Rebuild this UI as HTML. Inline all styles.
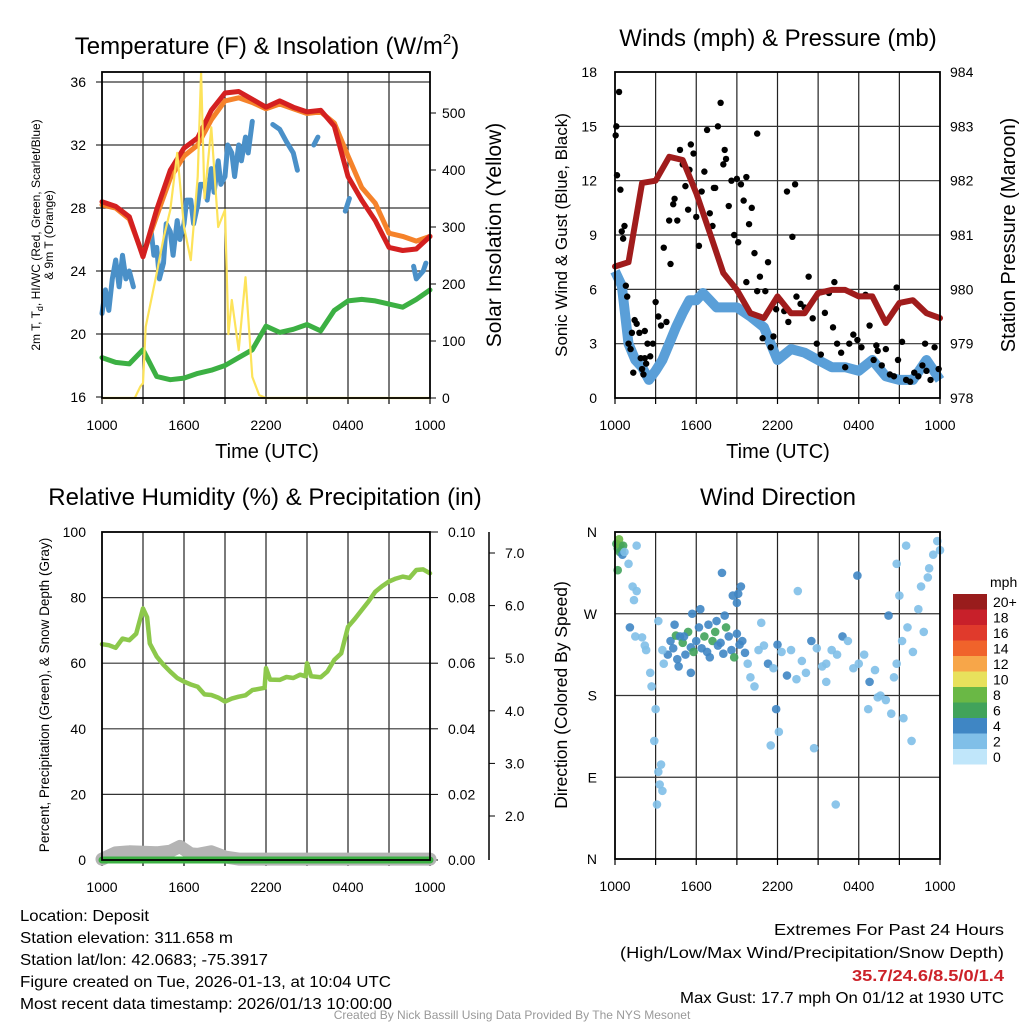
<!DOCTYPE html>
<html><head><meta charset="utf-8"><title>Deposit Meteogram</title>
<style>
html,body{margin:0;padding:0;background:#fff;}
svg{display:block;font-family:"Liberation Sans",Arial,sans-serif;}
</style></head>
<body>
<svg id="chart" width="1024" height="1024" viewBox="0 0 1024 1024" xmlns="http://www.w3.org/2000/svg">
<rect width="1024" height="1024" fill="#fff"/>
<g id="p1"></g>
<g id="p2"></g>
<g id="p3"></g>
<g id="p4"></g>
<g font-size="16" fill="#000">
<text x="20" y="921" textLength="129" lengthAdjust="spacingAndGlyphs">Location: Deposit</text>
<text x="20" y="943" textLength="213" lengthAdjust="spacingAndGlyphs">Station elevation: 311.658 m</text>
<text x="20" y="965" textLength="248" lengthAdjust="spacingAndGlyphs">Station lat/lon: 42.0683; -75.3917</text>
<text x="20" y="987" textLength="371" lengthAdjust="spacingAndGlyphs">Figure created on Tue, 2026-01-13, at 10:04 UTC</text>
<text x="20" y="1009" textLength="372" lengthAdjust="spacingAndGlyphs">Most recent data timestamp: 2026/01/13 10:00:00</text>
</g>
<g font-size="16" fill="#000">
<text x="774" y="935" textLength="230" lengthAdjust="spacingAndGlyphs">Extremes For Past 24 Hours</text>
<text x="620" y="958" textLength="384" lengthAdjust="spacingAndGlyphs">(High/Low/Max Wind/Precipitation/Snow Depth)</text>
<text x="852" y="981" fill="#cc2229" font-weight="bold" textLength="152" lengthAdjust="spacingAndGlyphs">35.7/24.6/8.5/0/1.4</text>
<text x="680" y="1003" textLength="324" lengthAdjust="spacingAndGlyphs">Max Gust: 17.7 mph On 01/12 at 1930 UTC</text>
</g>
<text x="512" y="1019" text-anchor="middle" font-size="12" fill="#999">Created By Nick Bassill Using Data Provided By The NYS Mesonet</text>
</svg>
<script>
// ---------- data ----------
const hours = [0,1,2,3,4,5,6,7,8,9,10,11,12,13,14,15,16,17,18,19,20,21,22,23,24];
const xTickLabels = ["1000","1600","2200","0400","1000"];
const xTickHours = [0,6,12,18,24];
const tempTicks = [16,20,24,28,32,36];
const solarTicks = [0,100,200,300,400,500];
const temp2m = [28.4,28.1,27.45,24.9,27.9,30.4,31.8,32.45,34.2,35.3,35.4,34.9,34.4,34.8,34.4,34.1,34.2,33.2,30.0,28.5,27.2,25.5,25.3,25.4,26.2];
const temp9m = [28.2,28.0,27.3,25.0,27.5,29.9,31.3,32.0,33.6,34.8,35.0,34.7,34.3,34.6,34.3,34.0,34.1,33.4,31.3,29.3,28.3,26.4,26.2,25.9,26.2];
const dewpoint = [18.5,18.2,18.1,19.0,17.3,17.1,17.2,17.5,17.7,18.0,18.5,19.0,20.5,20.1,20.3,20.6,20.2,21.5,22.1,22.2,22.1,21.9,21.7,22.2,22.8];
const hiwcT = [0,0.25,0.5,0.75,1,1.25,1.5,1.75,2,2.3,null,3.6,3.8,4,4.2,4.5,4.7,5,5.2,5.5,5.7,6,6.2,6.5,6.7,7,7.2,7.5,7.7,8,8.2,8.5,8.7,9,9.2,9.5,9.7,10,10.2,10.5,10.7,11,null,12.5,13,13.5,14,14.3,null,15.5,15.8,null,17.8,18.1,null,22.8,23,23.5,23.7];
const hiwcV = [21.3,22.8,21.5,23.5,24.7,23.0,25.0,23.5,24.0,23.0,null,26.5,25.0,25.5,23.5,24.5,27.0,26.5,25.0,27.2,26.0,27.0,28.5,28.5,27.0,28.2,29.5,29.5,28.5,30.5,29.0,31.0,29.5,30.0,32.0,31.5,30.0,32.0,31.0,32.5,31.5,33.5,null,33.3,33.0,32.2,31.5,30.4,null,32.0,32.5,null,27.8,28.6,null,24.3,23.5,24.0,24.5];
const solarT = [0,2.4,2.8,3.0,3.2,4,4.5,5,5.5,6,6.5,7,7.25,7.5,8,8.5,9,9.25,9.5,10,10.5,11,11.5,12,24];
const solarV = [0,0,20,26,125,219,280,330,430,300,242,388,572,350,475,300,330,112,172,84,212,37,5,0,0];
const pressure = [980.42,980.5,981.96,982.0,982.44,982.38,981.77,981.04,980.3,979.99,979.56,979.47,979.87,979.56,979.56,979.93,979.99,979.99,979.87,979.87,979.38,979.75,979.8,979.56,979.47];
const windT = [0,0.5,1,1.5,2,2.5,3,3.5,4,4.5,5,5.5,6,6.5,7,7.5,8,9,10,11,12,13,14,15,16,17,18,19,20,21,22,23,24];
const windV = [7.0,6.2,3.0,2.1,1.7,1.0,1.5,2.1,3.0,3.9,4.7,5.4,5.4,5.8,5.4,5.0,5.0,5.0,4.5,3.9,2.1,2.7,2.5,2.1,1.7,1.7,1.5,2.1,1.2,1.0,1.0,2.1,1.0];
const gustT = [0.05,0.1,0.15,0.3,0.4,0.5,0.6,0.7,0.8,0.9,1.0,1.15,1.25,1.35,1.45,1.6,1.8,1.9,2.0,2.1,2.2,2.3,2.4,2.6,2.8,3.0,3.2,3.4,3.6,3.8,4.0,4.1,4.3,4.4,4.6,4.8,5.0,5.2,5.4,5.6,5.8,6.0,6.2,6.4,6.6,6.8,7.0,7.2,7.4,7.6,7.8,8.0,8.2,8.4,8.6,8.8,9.0,9.1,9.3,9.5,9.7,9.9,10.1,10.3,10.5,10.7,10.9,11.1,11.3,11.5,11.7,11.9,12.2,12.5,12.8,13.1,13.4,13.7,14.0,14.3,14.6,14.9,15.2,15.5,15.8,16.1,16.4,16.7,17.0,17.3,17.6,17.9,18.2,18.5,18.8,19.1,19.4,19.7,20.0,20.3,20.6,20.9,21.2,21.5,21.8,22.1,22.4,22.7,23.0,23.3,23.6,23.9,2.2,5.5,7.3,8.1,9.7,10.5,12.7,13.3,16.2,19.3,20.8,22.9];
const gustV = [14.5,15.0,12.3,16.9,11.5,9.2,8.8,9.5,6.2,5.6,3.0,2.7,3.6,1.4,4.3,4.1,3.6,2.2,1.6,1.3,2.2,1.9,3.0,2.3,3.0,5.3,4.5,4.0,8.3,4.2,9.8,7.4,10.7,11.0,9.8,13.7,12.9,11.7,10.4,14.0,13.5,10.0,8.4,11.4,12.5,14.8,10.2,9.5,11.6,15.0,16.3,12.9,13.2,10.6,12.0,9.0,12.1,8.6,11.8,10.9,12.2,9.6,10.5,8.0,5.9,6.7,3.3,5.9,7.5,2.8,3.4,4.9,5.4,4.8,4.2,8.9,5.6,5.2,5.0,6.7,4.4,3.0,2.4,4.7,5.8,3.9,3.0,2.5,1.7,3.0,3.5,3.2,2.8,5.7,4.0,2.1,2.6,1.8,2.7,1.3,1.2,2.1,3.1,1.0,0.9,1.4,1.2,1.8,1.5,1.0,2.8,1.6,3.7,12.6,11.6,13.7,6.4,14.6,11.4,11.8,6.4,2.9,6.1,3.0];
const pctTicks = [0,20,40,60,80,100];
const precipTicks = ["0.00","0.02","0.04","0.06","0.08","0.10"];
const snowTicks = [2,3,4,5,6,7];
const rhT = [0,0.5,1,1.5,2,2.5,3,3.3,3.5,4,4.5,5,5.5,6,6.5,7,7.5,8,8.5,9,9.5,10,10.5,11,11.9,12,12.3,13,13.5,14,14.5,14.9,15,15.3,16,16.5,17,17.5,18,18.5,19,19.5,20,20.5,21,21.5,22,22.5,23,23.5,24];
const rhV = [65.8,65.5,64.7,67.5,67,69,76.7,74,66,62.0,59.5,57.4,55.5,54.4,53.5,52.8,50.5,50.3,49.5,48.3,49.2,49.8,50.2,51.8,52.5,58.5,55,54.9,55.8,55.5,56.5,56,60,56,55.7,57.5,61,63,71.1,73.5,76.2,78.8,81.8,83.5,84.9,85.8,86.4,86.0,88.4,88.6,87.4];
const precipT = [0,24];
const precipV = [0,0];
const snowT = [0,1,2,3,4,5,5.7,6.5,7,8,9,10,12,24];
const snowV = [1.18,1.30,1.32,1.31,1.30,1.33,1.42,1.28,1.27,1.32,1.22,1.18,1.18,1.18];
const dirLabels = ["N","E","S","W","N"];
const dirTicks = [0,90,180,270,360];
const dirT = [0.1,0.2,0.3,0.35,0.4,0.5,0.55,0.6,0.7,0.2,1.0,1.3,1.6,1.1,1.4,1.6,2.0,2.2,1.5,2.7,2.6,3.0,2.9,3.2,3.4,3.3,3.5,3.1,2.3,3.6,3.9,4.1,4.3,4.5,4.6,4.8,5.0,5.2,5.4,5.6,5.8,6.0,6.2,6.4,6.6,6.8,7.0,7.2,7.4,7.6,7.8,8.0,8.2,8.4,8.6,8.8,9.0,9.2,9.4,9.6,9.8,4.4,5.1,5.7,6.3,6.9,7.5,8.1,8.7,9.3,7.9,9.1,9.0,5.6,4.7,10.0,10.3,10.6,11.0,11.3,11.7,12.0,12.3,12.7,13.0,13.4,13.8,14.1,14.5,14.9,15.3,15.6,16.0,16.4,16.8,17.2,17.6,18.0,18.4,18.8,19.2,19.6,20.0,20.4,20.8,21.2,21.6,22.0,10.8,11.9,12.1,11.5,14.7,15.6,16.3,17.9,18.7,19.4,20.6,21.3,21.9,22.4,22.8,23.2,23.5,23.8,24.0,23.1,22.6,20.2,20.8,21.0,21.5,13.5,3.2,3.5];
const dirV = [347,342,352,338,345,340,335,345,338,318,325,300,345,255,285,295,244,235,245,190,205,165,130,96,104,82,75,60,230,215,225,240,232,246,220,245,238,225,250,233,228,240,255,232,245,228,222,240,250,235,238,226,255,245,230,222,248,236,240,227,215,258,245,270,275,258,262,268,290,300,315,292,282,205,212,200,190,230,235,215,210,236,228,202,230,198,218,205,240,232,212,195,230,225,245,240,210,215,225,195,208,180,175,160,215,240,255,228,260,165,140,125,122,215,60,312,165,178,200,155,130,275,250,320,335,350,340,310,300,268,325,290,345,295,262,230,250,258,255,222,200];
const dirS = [6,6,7,6,8,6,4,6,2,6,2,2,2,4,2,2,2,2,2,1,2,1,2,1,1,1,2,2,2,2,4,4,4,6,4,4,6,4,6,4,6,4,4,4,6,4,4,6,6,4,4,4,6,4,4,6,4,4,4,4,2,4,4,4,4,4,4,4,4,4,4,4,4,4,4,2,2,2,2,3,2,3,2,4,2,2,2,2,4,2,1,1,2,2,4,2,2,1,1,3,2,1,1,1,1,1,1,1,1,3,2,2,2,1,2,3,2,2,1,1,1,1,1,2,2,1,2,1,2,3,2,1,1,1,1,1,3,3,2,1,1];
const cbLabels = ["0","2","4","6","8","10","12","14","16","18","20+"];
const cbColors = ["#c0e6fa","#80bfe8","#3f86c4","#41a35b","#6ab845","#e8e15c","#f7a649","#f0632b","#e03a2c","#c8202a","#991c1c"];

// ---------- helpers ----------
const NS = "http://www.w3.org/2000/svg";
function mk(parent, tag, attrs){ const e=document.createElementNS(NS,tag); for(const k in attrs) e.setAttribute(k,attrs[k]); parent.appendChild(e); return e; }
function txt(parent, x, y, s, size, anchor, extra){ const e=mk(parent,"text",Object.assign({x:x,y:y,"font-size":size,"text-anchor":anchor||"start",fill:"#000"},extra||{})); e.textContent=s; return e; }
function pathFrom(ts, vs, X, Y){ let d="", pen=false; for(let i=0;i<ts.length;i++){ if(ts[i]===null||vs[i]===null){pen=false;continue;} d+=(pen?"L":"M")+X(ts[i]).toFixed(1)+","+Y(vs[i]).toFixed(1); pen=true;} return d; }
function frame(g, L, T, R, B, X, hGrid, Y){
  for(let h=3;h<24;h+=3){ const l=mk(g,"line",{x1:X(h),x2:X(h),y1:T,y2:B,stroke:"#222","stroke-width":1.2});
      }
  hGrid.forEach(v=>{ const y=Y(v); if(y>T+1&&y<B-1){ const l=mk(g,"line",{x1:L,x2:R,y1:y,y2:y,stroke:"#333","stroke-width":1.2});
      }});
  for(let h=0;h<=24;h+=3){ const t=mk(g,"line",{x1:X(h),x2:X(h),y1:B,y2:B+6,stroke:"#000","stroke-width":1.2});
      }
  xTickHours.forEach((h,i)=>{ const t=txt(g,X(h),B+32,xTickLabels[i],14,"middle");
      });
}
function border(g,L,T,R,B){ const r=mk(g,"rect",{x:L,y:T,width:R-L,height:B-T,fill:"none",stroke:"#000","stroke-width":1.8});
    }

// ---------- Panel 1 ----------
(function(){
  const g=document.getElementById("p1"); const L=102,R=430,T=72,B=398;
  const X=h=>L+h*(R-L)/24, Y=v=>397-(v-16)*15.75, YS=v=>398-v*0.57;
  frame(g,L,T,R,B,X,tempTicks,Y);
  tempTicks.forEach(v=>{ const t=txt(g,86,Y(v)+5,String(v),14,"end");  
    const k=mk(g,"line",{x1:L-6,x2:L,y1:Y(v),y2:Y(v),stroke:"#000"});   });
  solarTicks.forEach(v=>{ const t=txt(g,442,YS(v)+5,String(v),14,"start");  
    const k=mk(g,"line",{x1:R,x2:R+6,y1:YS(v),y2:YS(v),stroke:"#000"});   });
  let p;
  p=mk(g,"path",{d:pathFrom(hours,dewpoint,X,Y),fill:"none",stroke:"#3cb043","stroke-width":5,"stroke-linejoin":"round","stroke-linecap":"round"});  
  p=mk(g,"path",{d:pathFrom(hiwcT,hiwcV,X,Y),fill:"none",stroke:"#4a90c8","stroke-width":5,"stroke-linejoin":"round","stroke-linecap":"round"});  
  p=mk(g,"path",{d:pathFrom(hours,temp9m,X,Y),fill:"none",stroke:"#f5822a","stroke-width":5,"stroke-linejoin":"round","stroke-linecap":"round"});  
  p=mk(g,"path",{d:pathFrom(hours,temp2m,X,Y),fill:"none",stroke:"#d42020","stroke-width":5,"stroke-linejoin":"round","stroke-linecap":"round"});  
  p=mk(g,"path",{d:pathFrom(solarT,solarV,X,YS),fill:"none",stroke:"#fde35a","stroke-width":2.2,"stroke-linejoin":"round"});  
  border(g,L,T,R,B);
  const t1=mk(g,"text",{x:267,y:54,"font-size":24,"text-anchor":"middle"}); t1.innerHTML='Temperature (F) &amp; Insolation (W/m<tspan dy="-10" font-size="15">2</tspan><tspan dy="10">)</tspan>';  
  let a=txt(g,267,458,"Time (UTC)",20,"middle");  
  a=mk(g,"text",{x:0,y:0,"font-size":12,"text-anchor":"middle",transform:"translate(40,235) rotate(-90)"}); a.innerHTML='2m T, T<tspan dy="3" font-size="9">d</tspan><tspan dy="-3">, HI/WC (Red, Green, Scarlet/Blue)</tspan>';  
  a=txt(g,0,0,"& 9m T (Orange)",12,"middle",{transform:"translate(53,235) rotate(-90)"});  
  a=txt(g,0,0,"Solar Insolation (Yellow)",21,"middle",{transform:"translate(501,235) rotate(-90)"});  
})();

// ---------- Panel 2 ----------
(function(){
  const g=document.getElementById("p2"); const L=615,R=940,T=72,B=398;
  const X=h=>L+h*(R-L)/24, Y=v=>398-v*18.11, YP=v=>398-(v-978)*54.33;
  const wTicks=[0,3,6,9,12,15,18], pTicks=[978,979,980,981,982,983,984];
  frame(g,L,T,R,B,X,wTicks,Y);
  wTicks.forEach(v=>{ const t=txt(g,597,Y(v)+5,String(v),14,"end");   });
  pTicks.forEach(v=>{ const t=txt(g,950,YP(v)+5,String(v),14,"start");   });
  let p=mk(g,"path",{d:pathFrom(windT,windV,X,Y),fill:"none",stroke:"#5a9fd8","stroke-width":10,"stroke-linejoin":"round"});  
  gustT.forEach((t,i)=>{ const c=mk(g,"circle",{cx:X(t),cy:Y(gustV[i]),r:3.2,fill:"#000"});   });
  p=mk(g,"path",{d:pathFrom(hours,pressure,X,YP),fill:"none",stroke:"#a01c1c","stroke-width":6,"stroke-linejoin":"round","stroke-linecap":"round"});  
  border(g,L,T,R,B);
  let a=txt(g,778,46,"Winds (mph) & Pressure (mb)",24,"middle");  
  a=txt(g,778,458,"Time (UTC)",20,"middle");  
  a=txt(g,0,0,"Sonic Wind & Gust (Blue, Black)",17,"middle",{transform:"translate(567,235) rotate(-90)"});  
  a=txt(g,0,0,"Station Pressure (Maroon)",20,"middle",{transform:"translate(1015,235) rotate(-90)"});  
})();

// ---------- Panel 3 ----------
(function(){
  const g=document.getElementById("p3"); const L=102,R=430,T=532,B=860;
  const X=h=>L+h*(R-L)/24, Y=v=>860-v*3.28, YSn=v=>816-(v-2)*52.6;
  frame(g,L,T,R,B,X,pctTicks,Y);
  pctTicks.forEach(v=>{ const t=txt(g,86,Y(v)+5,String(v),14,"end");  
    const k=mk(g,"line",{x1:R,x2:R+8,y1:Y(v),y2:Y(v),stroke:"#000"});   });
  precipTicks.forEach((s,i)=>{ const t=txt(g,448,Y(i*20)+5,s,14,"start");   });
  let ax=mk(g,"line",{x1:489,x2:489,y1:532,y2:860,stroke:"#000","stroke-width":1.5});  
  snowTicks.forEach(v=>{ const k=mk(g,"line",{x1:489,x2:495,y1:YSn(v),y2:YSn(v),stroke:"#000"});  
    const t=txt(g,505,YSn(v)+5,v.toFixed(1),14,"start");   });
  let p=mk(g,"path",{d:pathFrom(snowT,snowV,X,YSn),fill:"none",stroke:"#b4b4b4","stroke-width":13,"stroke-linejoin":"round","stroke-linecap":"round"});  
  p=mk(g,"path",{d:pathFrom(precipT,precipV.map(v=>v*1000),X,Y),fill:"none",stroke:"#3cb043","stroke-width":7,"stroke-linecap":"round"});  
  p=mk(g,"path",{d:pathFrom(rhT,rhV,X,Y),fill:"none",stroke:"#8cc84b","stroke-width":4.5,"stroke-linejoin":"round","stroke-linecap":"round"});  
  border(g,L,T,R,B);
  let a=txt(g,265,505,"Relative Humidity (%) & Precipitation (in)",24,"middle");  
  a=txt(g,0,0,"Percent, Precipitation (Green), & Snow Depth (Gray)",13.5,"middle",{transform:"translate(49,695) rotate(-90)"});  
})();

// ---------- Panel 4 ----------
(function(){
  const g=document.getElementById("p4"); const L=615,R=940,T=532,B=859;
  const X=h=>L+h*(R-L)/24, Y=d=>859-d*(327/360);
  frame(g,L,T,R,B,X,dirTicks,Y);
  dirTicks.forEach((d,i)=>{ const t=txt(g,597,Y(d)+5,dirLabels[i],14,"end");   });
  dirT.forEach((t,i)=>{ const idx=Math.min(10,Math.round(dirS[i]/2)); const c=mk(g,"circle",{cx:X(t),cy:Y(dirV[i]),r:4.3,fill:cbColors[idx],"fill-opacity":0.9});
      });
  border(g,L,T,R,B);
  let a=txt(g,778,505,"Wind Direction",24,"middle");  
  a=txt(g,0,0,"Direction (Colored By Speed)",17.5,"middle",{transform:"translate(567,695) rotate(-90)"});  
  const cb=mk(g,"g",{});  
  const top=594, bh=15.5;
  cbColors.forEach((c,i)=>{ const y=top+(10-i)*bh; const r=mk(cb,"rect",{x:953,y:y,width:34,height:bh,fill:c});
     
    const t=txt(cb,993,y+bh/2+5,cbLabels[i],14,"start");   });
  a=txt(cb,990,587,"mph",14,"start");  
})();
</script>
</body></html>
